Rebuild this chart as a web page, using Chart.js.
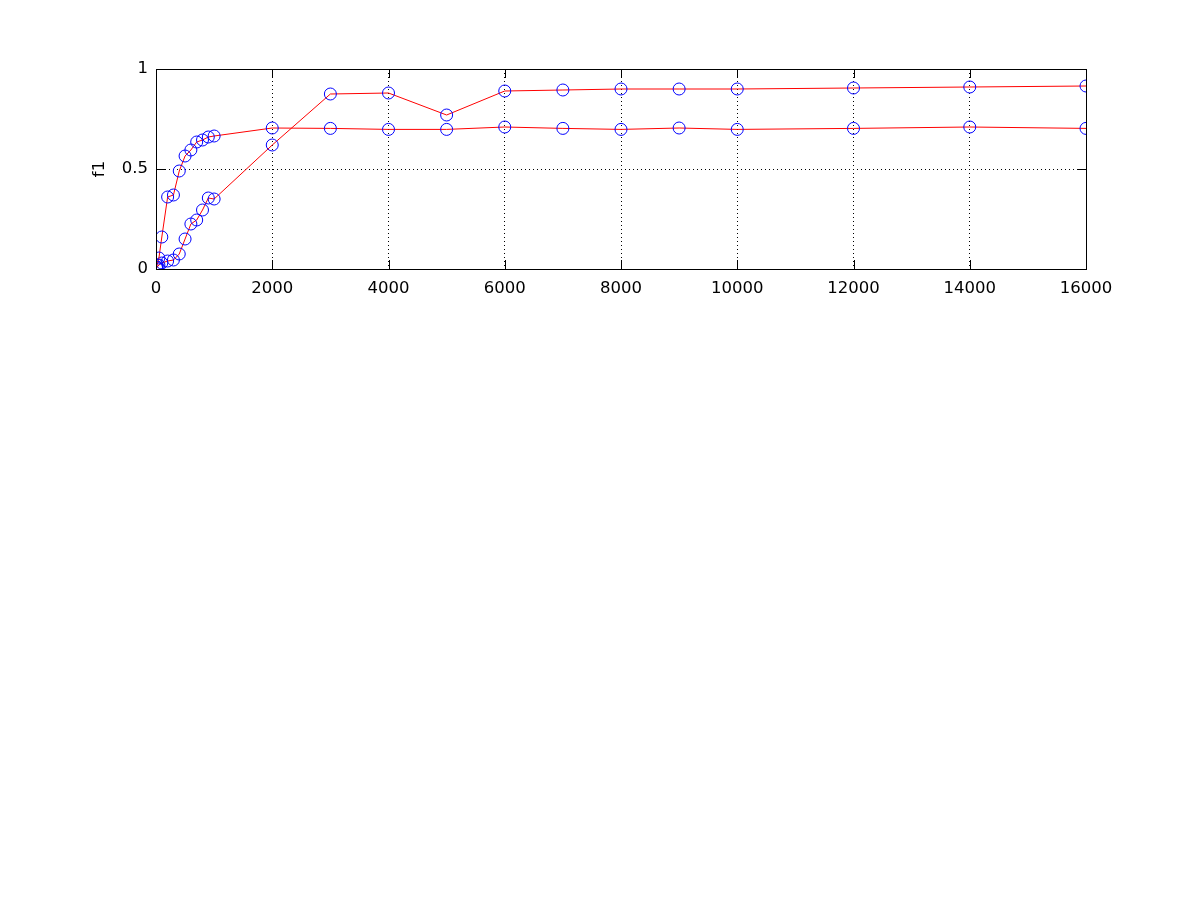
<!DOCTYPE html>
<html>
<head>
<meta charset="utf-8">
<script src="https://cdn.jsdelivr.net/npm/chart.js@4.4.1/dist/chart.umd.min.js"></script>
<style>
  html, body { margin: 0; padding: 0; background: #ffffff; }
  #wrap { width: 1200px; height: 900px; }
</style>
</head>
<body>
<div id="wrap"><canvas id="c" width="1200" height="900"></canvas></div>
<script>
const xValues = [10, 20, 50, 100, 200, 300, 400, 500, 600, 700, 800, 900, 1000, 2000, 3000, 4000, 5000, 6000, 7000, 8000, 9000, 10000, 12000, 14000, 16000];
const seriesA = [0.01, 0.02, 0.055, 0.16, 0.36, 0.37, 0.49, 0.565, 0.595, 0.635, 0.645, 0.66, 0.665, 0.705, 0.703, 0.698, 0.698, 0.71, 0.703, 0.698, 0.705, 0.698, 0.703, 0.71, 0.703];
const seriesB = [0.005, 0.01, 0.02, 0.03, 0.04, 0.045, 0.075, 0.15, 0.225, 0.245, 0.295, 0.355, 0.35, 0.62, 0.875, 0.88, 0.77, 0.89, 0.895, 0.9, 0.9, 0.9, 0.905, 0.91, 0.915];
const xTickStep = 2000;
const yTickStep = 0.5;
const yTitle = 'f1';

const FONT = { family: '"DejaVu Sans", sans-serif', size: 16.5 };

function toPoints(ys) { return xValues.map((x, i) => ({ x: x, y: ys[i] })); }

const frame = {
  id: 'matlabFrame',
  afterDraw(chart) {
    const { ctx, chartArea: a, scales } = chart;
    ctx.save();
    ctx.strokeStyle = '#000';
    ctx.lineWidth = 1;
    ctx.setLineDash([]);
    const L = 9;
    ctx.beginPath();
    scales.x.ticks.forEach(t => {
      const px = Math.round(scales.x.getPixelForValue(t.value)) + 0.5;
      ctx.moveTo(px, a.bottom); ctx.lineTo(px, a.bottom - L);
      ctx.moveTo(px, a.top); ctx.lineTo(px, a.top + L);
    });
    scales.y.ticks.forEach(t => {
      const py = Math.round(scales.y.getPixelForValue(t.value)) + 0.5;
      ctx.moveTo(a.left, py); ctx.lineTo(a.left + L, py);
      ctx.moveTo(a.right, py); ctx.lineTo(a.right - L, py);
    });
    ctx.stroke();
    ctx.strokeRect(Math.round(a.left) + 0.5, Math.round(a.top) + 0.5, Math.round(a.right - a.left), Math.round(a.bottom - a.top));
    ctx.restore();
  }
};

const dsStyle = {
  showLine: true,
  borderColor: '#ff0000',
  borderWidth: 1,
  pointStyle: 'circle',
  pointRadius: 6,
  pointHoverRadius: 6,
  pointBorderColor: '#0000ff',
  pointBackgroundColor: 'rgba(0,0,0,0)',
  pointBorderWidth: 1,
  tension: 0
};

new Chart(document.getElementById('c'), {
  type: 'scatter',
  data: {
    datasets: [
      Object.assign({ label: 'A', data: toPoints(seriesA) }, dsStyle),
      Object.assign({ label: 'B', data: toPoints(seriesB) }, dsStyle)
    ]
  },
  options: {
    responsive: false,
    devicePixelRatio: 1,
    animation: false,
    events: [],
    layout: { padding: { left: 90, right: 114, top: 69, bottom: 591 } },
    plugins: { legend: { display: false }, tooltip: { enabled: false } },
    scales: {
      x: {
        type: 'linear',
        min: 0, max: 16000,
        afterFit(s) { s.height = 40; },
        ticks: { stepSize: xTickStep, color: '#000', font: FONT, padding: 10, maxRotation: 0, autoSkip: false,
          callback: v => String(v) },
        grid: { color: '#000', lineWidth: 1, drawTicks: false },
        border: { display: true, color: '#000', dash: [1, 3] }
      },
      y: {
        type: 'linear',
        min: 0, max: 1,
        afterFit(s) { s.width = 66; },
        ticks: { stepSize: yTickStep, color: '#000', font: FONT, padding: 8,
          callback: v => String(v) },
        grid: { color: '#000', lineWidth: 1, drawTicks: false },
        border: { display: true, color: '#000', dash: [1, 3] },
        title: { display: true, text: yTitle, color: '#000', font: FONT, padding: 0 }
      }
    }
  },
  plugins: [frame]
});
</script>
</body>
</html>
